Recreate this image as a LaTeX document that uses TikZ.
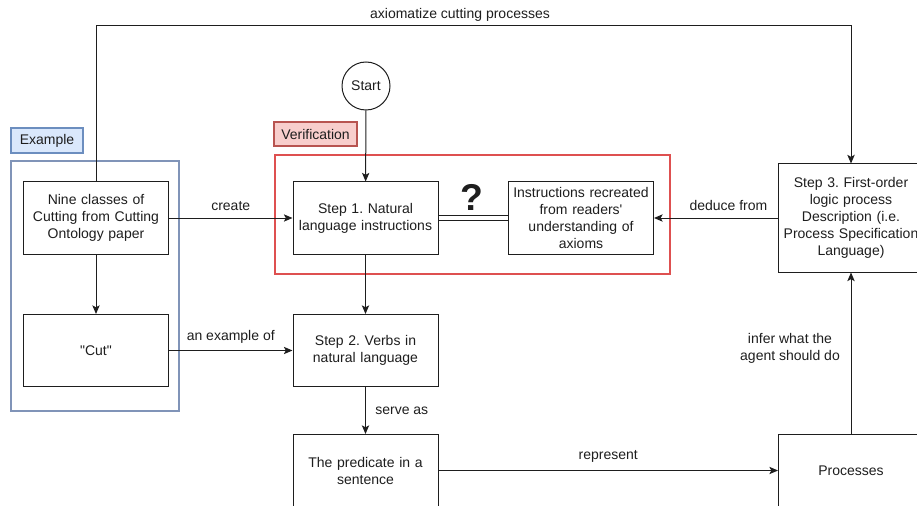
\documentclass[tikz,border=0pt]{standalone}
\usepackage{fontspec}
\setmainfont{Liberation Sans}
\usetikzlibrary{arrows.meta}
\frenchspacing
\definecolor{exborder}{RGB}{128,148,184}
\definecolor{exfill}{RGB}{218,232,252}
\definecolor{exlabel}{RGB}{108,142,191}
\definecolor{verborder}{RGB}{222,80,80}
\definecolor{verfill}{RGB}{248,206,204}
\definecolor{verlabel}{RGB}{184,84,80}
\definecolor{ink}{RGB}{30,30,30}
\begin{document}
\begin{tikzpicture}[x=0.75pt,y=-0.75pt,
  every node/.style={font=\fontsize{10.5}{12.75}\selectfont, text=ink},
  stepbox/.style={draw=ink, line width=0.75pt, fill=white, minimum width=108.75pt, minimum height=54pt, align=center, inner sep=1pt, text width=106pt},
  conn/.style={draw=ink, line width=0.75pt, -{Stealth[length=6.5pt,width=5.5pt,inset=1.5pt]}},
  lbl/.style={inner sep=0pt, align=center}]
\useasboundingbox (0,0) rectangle (917,506);
% groups
\draw[exborder, line width=1pt] (11,161) rectangle (179,411);
\node[draw=exlabel, fill=exfill, line width=0.8pt, minimum width=54pt, minimum height=18.75pt, inner sep=0pt] (exlbl) at (47,140.5) {Example};
\draw[verborder, line width=0.9pt] (275,155) rectangle (670,274);
\node[draw=verlabel, fill=verfill, line width=0.8pt, minimum width=62.25pt, minimum height=18pt, inner sep=0pt] (verlbl) at (315.5,134) {Verification};
% nodes
\node[stepbox] (nine) at (96,218) {Nine classes of\\Cutting from Cutting\\Ontology paper};
\node[stepbox] (cut) at (96,350.5) {\textquotedbl Cut\textquotedbl};
\node[draw=ink, circle, line width=0.75pt, minimum size=36pt, inner sep=0pt] (start) at (366,86) {Start};
\node[stepbox] (s1) at (365.5,218) {Step 1. Natural\\language instructions};
\node[stepbox] (instr) at (581,218) {Instructions recreated\\from readers\textquotesingle\\understanding of\\axioms};
\node[stepbox, minimum height=81pt] (s3) at (851,218) {Step 3. First-order\\logic process\\Description (i.e.\\Process Specification\\Language)};
\node[stepbox] (s2) at (365.5,350.5) {Step 2. Verbs in\\natural language};
\node[stepbox] (pred) at (365.5,470.5) {The predicate in a\\sentence};
\node[stepbox] (proc) at (851,470.5) {Processes};
\node[inner sep=0pt, font=\fontsize{28}{28}\bfseries\selectfont] (q) at (472,197) {?};
% connectors
\coordinate (tl) at (96,26);
\coordinate (tr) at (851,26);
\draw[conn] (nine.north) -- (tl) -- (tr) -- (s3.north);
\node[lbl] (laxi) at (460,15) {axiomatize cutting processes};
\draw[conn] (nine) -- (cut);
\draw[conn] (nine) -- node[lbl, above=5pt] {create} (s1);
\draw[conn] (cut) -- node[lbl, above=5pt] {an example of} (s2);
\draw[conn] (start) -- (s1);
\draw[conn] (s1) -- (s2);
\draw[conn] (s2) -- node[lbl, right=7pt] {serve as} (pred);
\draw[conn] (pred) -- node[lbl, above=6pt] {represent} (proc);
\draw[conn] (proc) -- (s3);
\node[lbl] (linfer) at (790,348) {infer what the\\agent should do};
\draw[conn] (s3) -- node[lbl, above=5pt, pos=0.4] {deduce from} (instr);
\draw[draw=ink, line width=0.7pt, double=white, double distance=3pt] (s1) -- (instr);
\end{tikzpicture}
\end{document}
